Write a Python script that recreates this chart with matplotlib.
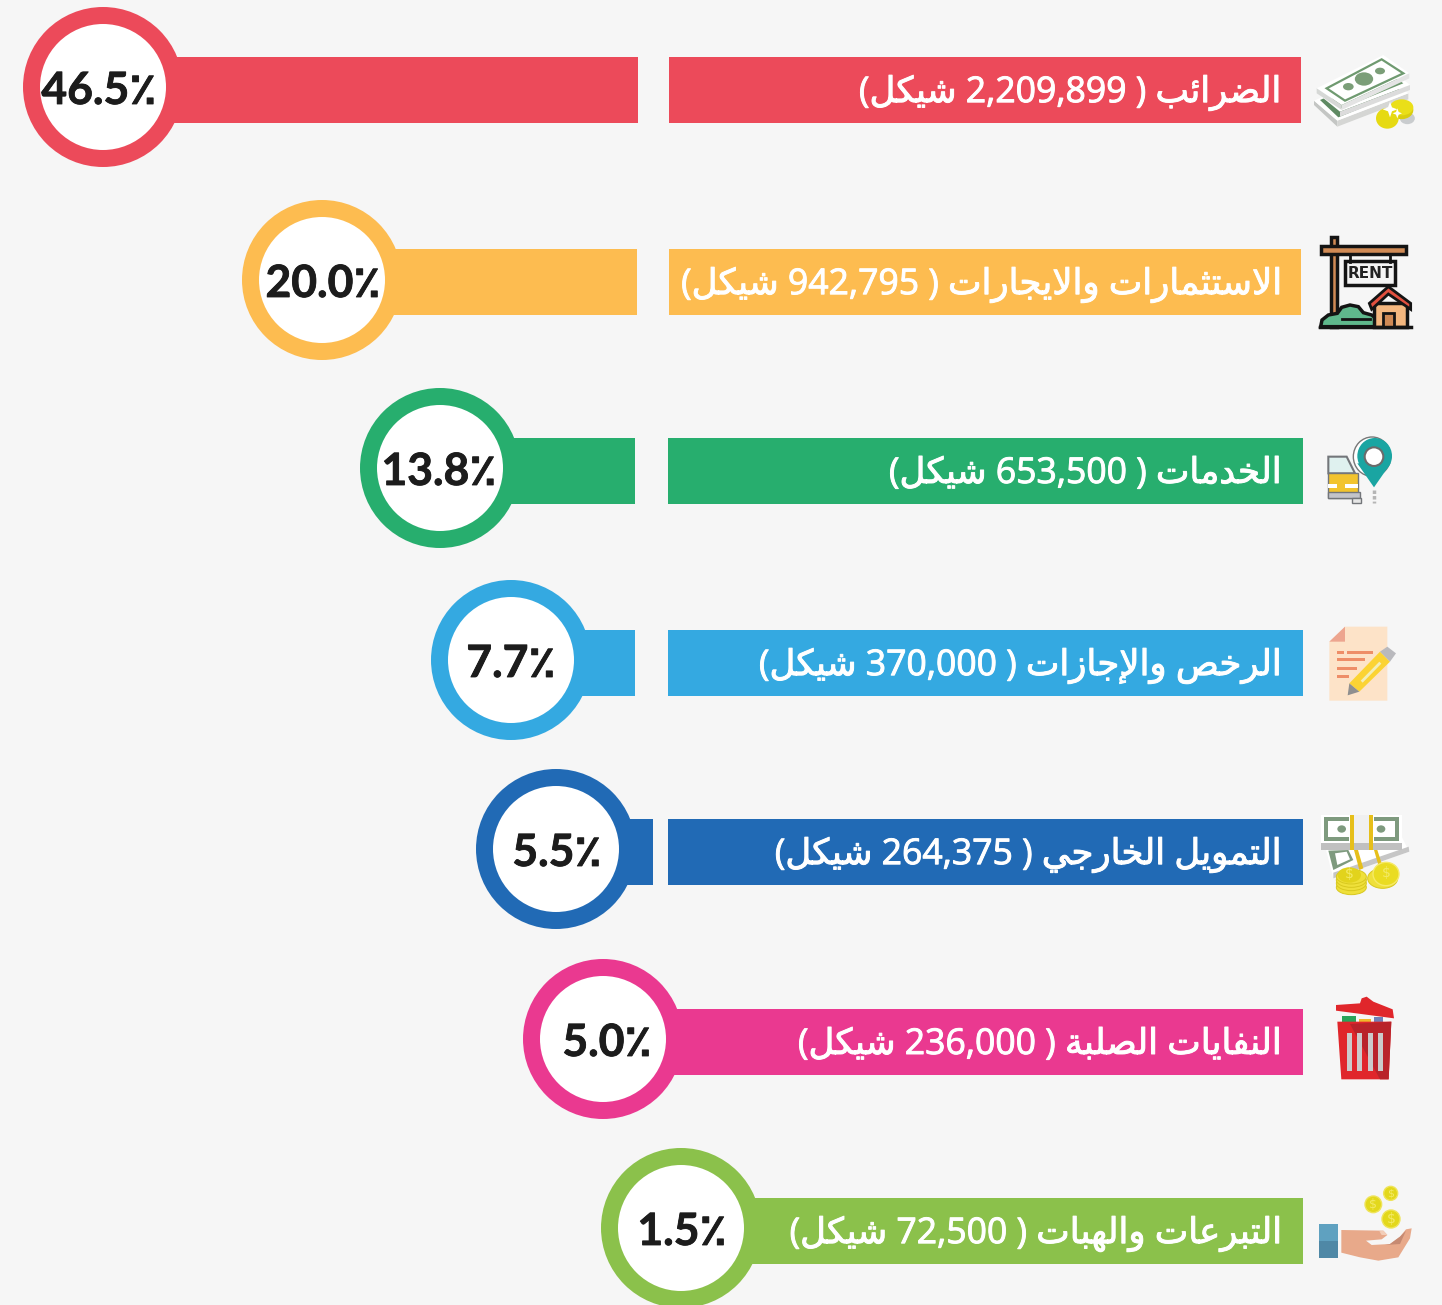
import matplotlib
matplotlib.use('Agg')
import matplotlib.pyplot as plt
import matplotlib.patheffects as pe
from matplotlib.patches import Circle, Ellipse, Polygon, Rectangle

#### values
labels = ['الضرائب', 'الاستثمارات والايجارات', 'الخدمات', 'الرخص والإجازات',
          'التمويل الخارجي', 'النفايات الصلبة', 'التبرعات والهبات']
amounts = ['2,209,899', '942,795', '653,500', '370,000', '264,375', '236,000', '72,500']
shares = ['46.5', '20.0', '13.8', '7.7', '5.5', '5.0', '1.5']
unit = 'شيكل'
colors = ['#ec4a5a', '#fdbc50', '#27ae6e', '#34a9e1', '#216ab5', '#ea3990', '#8bc14b']

#### layout in pixels
row_y = [90, 282, 471, 663, 852, 1042, 1231]
circle_x = [103, 322, 440, 511, 556, 603, 681]
circle_y = [87, 280, 468, 660, 849, 1039, 1228]
share_x = [99, 323, 439, 511, 557, 607, 682]
left_end = [638, 637, 635, 635, 653, 668, 668]
right_start = [669, 669, 668, 668, 668, 668, 668]
right_end = [1301, 1301, 1303, 1303, 1303, 1303, 1303]

BG = '#f6f6f6'
BAR_H = 66
R_OUT = 80
R_IN = 63

# matplotlib does not shape arabic, so pick presentation forms by hand
# letter: isolated form, then final, initial, medial follow it
FOUR = {'ئ': 0xFE89, 'ب': 0xFE8F, 'ت': 0xFE95, 'ث': 0xFE99, 'ج': 0xFE9D, 'ح': 0xFEA1,
        'خ': 0xFEA5, 'س': 0xFEB1, 'ش': 0xFEB5, 'ص': 0xFEB9, 'ض': 0xFEBD, 'ع': 0xFEC9,
        'ف': 0xFED1, 'ك': 0xFED9, 'ل': 0xFEDD, 'م': 0xFEE1, 'ن': 0xFEE5, 'ه': 0xFEE9,
        'ي': 0xFEF1}
TWO = {'إ': 0xFE87, 'ا': 0xFE8D, 'ة': 0xFE93, 'د': 0xFEA9, 'ر': 0xFEAD, 'ز': 0xFEAF, 'و': 0xFEED}
LAM_ALEF = {'ا': 0xFEFB, 'إ': 0xFEF9}


def shape(text):
    out = []
    joined = False  # did the previous letter connect forward
    i = 0
    while i < len(text):
        c = text[i]
        nxt = text[i + 1] if i + 1 < len(text) else ' '
        if c == 'ل' and nxt in LAM_ALEF:
            out.append(chr(LAM_ALEF[nxt] + (1 if joined else 0)))
            joined = False
            i += 2
            continue
        if c in FOUR:
            base = FOUR[c]
            forward = nxt in FOUR or nxt in TWO
            if joined and forward:
                out.append(chr(base + 3))
            elif joined:
                out.append(chr(base + 1))
            elif forward:
                out.append(chr(base + 2))
            else:
                out.append(chr(base))
            joined = forward
        elif c in TWO:
            out.append(chr(TWO[c] + (1 if joined else 0)))
            joined = False
        else:
            out.append(c)
            joined = False
        i += 1
    return ''.join(reversed(out))


fig = plt.figure(figsize=(14.42, 13.05), dpi=100, facecolor=BG)
ax = fig.add_axes([0, 0, 1, 1])
ax.set_xlim(0, 1442)
ax.set_ylim(1305, 0)
ax.axis('off')

# bars and rings
for i in range(len(labels)):
    ax.barh(row_y[i], left_end[i] - circle_x[i], left=circle_x[i], height=BAR_H,
            color=colors[i], linewidth=0, zorder=1)
    ax.barh(row_y[i], right_end[i] - right_start[i], left=right_start[i], height=BAR_H,
            color=colors[i], linewidth=0, zorder=1)
    ax.add_patch(Circle((circle_x[i], circle_y[i]), R_OUT, fc=colors[i], lw=0, zorder=2))
    ax.add_patch(Circle((circle_x[i], circle_y[i]), R_IN, fc='white', lw=0, zorder=3))
    ax.text(share_x[i], circle_y[i] + 4, shares[i] + '٪', ha='center', va='center',
            fontsize=32, fontweight='bold', family=['Lato', 'DejaVu Sans'],
            color='#1c1c1c', zorder=4,
            path_effects=[pe.withStroke(linewidth=0.6, foreground='#1c1c1c')])
    # parens as they show in the picture, swapped by trial against the render
    txt = '(' + shape(unit) + ' ' + amounts[i] + ' ) ' + shape(labels[i])
    ax.text(1281, row_y[i] + 3, txt, ha='right', va='center', fontsize=25.6,
            family=['Open Sans', 'DejaVu Sans'], color='white', zorder=4,
            path_effects=[pe.withStroke(linewidth=0.7, foreground='white')])


def P(pts, ox, oy, **kw):
    kw.setdefault('lw', 0)
    ax.add_patch(Polygon([(ox + x / 3, oy + y / 3) for x, y in pts], closed=True, **kw))


def R(x0, y0, x1, y1, ox, oy, **kw):
    kw.setdefault('lw', 0)
    ax.add_patch(Rectangle((ox + x0 / 3, oy + y0 / 3), (x1 - x0) / 3, (y1 - y0) / 3, **kw))


def E(x, y, w, h, ox, oy, **kw):
    kw.setdefault('lw', 0)
    ax.add_patch(Ellipse((ox + x / 3, oy + y / 3), w / 3, h / 3, **kw))


# icon 1 banknotes
o = (1300, 30)
E(322, 265, 45, 35, *o, fc='#c9ccce')
P([(42, 212), (112, 272), (112, 290), (42, 225)], *o, fc='#c4c6c4')
P([(112, 272), (325, 190), (325, 208), (112, 290)], *o, fc='#d5d6d4')
P([(42, 212), (245, 125), (325, 190), (112, 272)], *o, fc='white')
P([(60, 210), (245, 130), (305, 185), (115, 262)], *o, fc='#5f8a63')
P([(52, 190), (250, 100), (330, 165), (120, 245)], *o, fc='white')
P([(120, 245), (330, 165), (330, 180), (120, 260)], *o, fc='#dcdcdc')
P([(85, 195), (250, 115), (310, 160), (125, 235)], *o, fc='#6f9a70')
P([(50, 175), (250, 75), (328, 130), (125, 225)], *o, fc='white')
P([(50, 175), (125, 225), (125, 240), (50, 190)], *o, fc='#d6d8d6')
P([(125, 225), (328, 130), (328, 145), (125, 240)], *o, fc='#e4e4e4')
P([(80, 175), (245, 88), (310, 130), (135, 212)], *o, fc='white', ec='#6f9a70', lw=1.6)
E(192, 147, 55, 40, *o, fc='#7b9e78')
E(145, 170, 32, 22, *o, fc='#7b9e78')
E(240, 123, 30, 20, *o, fc='#7b9e78')
E(305, 240, 70, 55, *o, fc='#d9cd10')
E(305, 232, 70, 48, *o, fc='#eadf18')
E(262, 265, 68, 62, *o, fc='#e6da12')
P([(270, 215), (276, 232), (292, 238), (276, 244), (270, 262), (264, 244), (248, 238), (264, 232)], *o, fc='white')
P([(292, 235), (296, 246), (306, 250), (296, 254), (292, 265), (288, 254), (278, 250), (288, 246)], *o, fc='white')

# icon 2 rent sign
BLK = '#141414'
R(92, 622, 110, 890, *o, fc='#d08a55', ec=BLK, lw=2.5)
R(62, 648, 318, 672, *o, fc='#d08a55', ec=BLK, lw=2.5)
ax.plot([1350, 1350], [254, 262], color=BLK, lw=2)
ax.plot([1390, 1390], [254, 262], color=BLK, lw=2)
R(135, 693, 285, 765, *o, fc='#f4f4f4', ec=BLK, lw=2.5)
ax.text(1370, 273.5, 'RENT', ha='center', va='center', fontsize=11, fontweight='bold',
        family='DejaVu Sans', color='#222222')
P([(62, 890), (66, 870), (85, 855), (112, 850), (125, 832), (150, 825), (175, 830), (190, 848),
   (215, 855), (235, 870), (240, 890)], *o, fc='#5fb88c', ec=BLK, lw=2.5)
ax.plot([1342, 1370], [318.5, 318.5], color=BLK, lw=2)
R(222, 820, 320, 890, *o, fc='#f4b77f', ec=BLK, lw=2.5)
P([(208, 820), (265, 770), (332, 820), (332, 838), (265, 792), (215, 838)], *o, fc='#e2503f', ec=BLK, lw=2)
R(250, 850, 282, 890, *o, fc='#d08a55', ec=BLK, lw=2)
ax.plot([1320, 1411], [327, 327], color=BLK, lw=2.5)

# icon 3 car and pin
o = (1300, 420)
P([(85, 110), (140, 110), (165, 160), (85, 160)], *o, fc='#dff1ef', ec='#73767a', lw=1.5)
R(85, 160, 175, 235, *o, fc='#f2c42e', ec='#73767a', lw=1)
R(85, 192, 112, 204, *o, fc='white')
R(135, 192, 175, 204, *o, fc='white')
R(85, 215, 180, 235, *o, fc='#c3c4ca', ec='#73767a', lw=1)
R(155, 235, 182, 250, *o, fc='#e6e6e6', ec='#73767a', lw=1)
E(216, 110, 112, 118, *o, fc='white', ec='#777777', lw=1)
P([(172, 130), (272, 130), (222, 202)], *o, fc='#1aa5a2')
E(224, 108, 104, 108, *o, fc='#1aa5a2')
E(222, 110, 56, 56, *o, fc='white', ec='#6b6b6b', lw=1.5)
ax.plot([1374, 1374], [490, 503], color='#b5b5b5', lw=2.5, ls=(0, (1, 0.6)))

# icon 4 document and pencil
P([(88, 665), (135, 620), (262, 620), (262, 842), (88, 842)], *o, fc='#fde3c8')
P([(88, 665), (135, 620), (135, 665)], *o, fc='#eda58f')
for x0, y0, x1 in [(110, 692, 132), (140, 692, 218), (110, 715, 195), (110, 740, 172), (110, 765, 148)]:
    R(x0, y0, x1, y0 + 9, *o, fc='#ee8e68')
P([(148, 790), (240, 695), (270, 725), (178, 815)], *o, fc='#fbd334')
P([(148, 790), (178, 815), (143, 826)], *o, fc='#8f8f8f')
P([(240, 695), (262, 680), (288, 700), (270, 725)], *o, fc='#b9b9bd')
P([(182, 782), (238, 725), (244, 731), (188, 788)], *o, fc='#f3eeb8')

# icon 5 bundled notes and coins
o = (1300, 800)
P([(78, 150), (306, 112), (328, 155), (100, 235)], *o, fc='white')
P([(100, 218), (326, 140), (328, 155), (100, 235)], *o, fc='#c6c6c6')
P([(85, 152), (145, 150), (160, 180), (100, 210)], *o, fc='#7e9a7e')
P([(105, 160), (140, 155), (150, 178), (112, 195)], *o, fc='white')
R(62, 45, 306, 130, *o, fc='white')
R(72, 50, 146, 122, *o, fc='#7e9a7e')
R(222, 50, 298, 122, *o, fc='#7e9a7e')
R(85, 62, 146, 112, *o, fc='white')
R(222, 62, 285, 112, *o, fc='white')
E(125, 87, 26, 22, *o, fc='#7e9a7e')
E(243, 87, 26, 22, *o, fc='#7e9a7e')
R(150, 45, 218, 130, *o, fc='#f0f0f0')
R(62, 128, 306, 150, *o, fc='#c0c0c0')
R(150, 45, 162, 150, *o, fc='#e6bf1a')
R(207, 45, 219, 150, *o, fc='#e6bf1a')
P([(162, 150), (174, 150), (190, 205), (178, 210)], *o, fc='#e6bf1a')
P([(222, 150), (232, 150), (245, 190), (235, 195)], *o, fc='#e6bf1a')
for yy in [262, 250, 240, 230]:
    E(154, yy, 90, 44, *o, fc='#efe03a', ec='#d8c81e', lw=0.7)
E(248, 235, 90, 60, *o, fc='#efe03a', ec='#d8c81e', lw=0.7)
E(258, 222, 78, 70, *o, fc='#eadc22', ec='#f6ea66', lw=1)
E(148, 225, 70, 46, *o, fc='#e2d31c')
ax.text(1349, 874.5, '$', ha='center', va='center', fontsize=10, color='#f3ea66', family='DejaVu Sans')
ax.text(1386, 873, '$', ha='center', va='center', fontsize=10, color='#f3ea66', family='DejaVu Sans')

# icon 6 bin
P([(108, 615), (180, 610), (185, 595), (200, 590), (220, 605), (278, 628), (282, 655), (108, 632)], *o, fc='#e0262b')
R(125, 648, 168, 665, *o, fc='#2aa35a')
R(176, 657, 212, 665, *o, fc='#f0b92a')
R(222, 652, 250, 665, *o, fc='#6f80b8')
P([(112, 665), (274, 665), (266, 838), (124, 838)], *o, fc='#e0262b')
P([(150, 672), (274, 665), (266, 838), (240, 838)], *o, fc='#b9232a')
for x0 in [140, 172, 203, 233]:
    R(x0, 700, x0 + 15, 812, *o, fc='#cbcbcb')

# icon 7 hand and coins
o = (1300, 1170)
R(57, 162, 114, 212, *o, fc='#5fa1c0')
R(57, 212, 114, 264, *o, fc='#4f88a6')
P([(124, 180), (250, 182), (262, 195), (245, 208), (198, 212), (215, 225), (270, 222), (300, 200),
   (318, 178), (335, 175), (330, 205), (295, 262), (235, 272), (180, 262), (124, 248)], *o, fc='#e8a98a')
P([(238, 184), (250, 182), (262, 195), (245, 195)], *o, fc='#f2cdb8')
P([(255, 225), (270, 222), (300, 200), (318, 182), (300, 222)], *o, fc='#c68a72')
for x, y, d, s in [(220, 103, 50, 9), (272, 70, 42, 8), (273, 147, 54, 10)]:
    E(x, y, d, d, *o, fc='#e3d81c', ec='#efe45a', lw=1)
    ax.text(o[0] + x / 3, o[1] + y / 3, '$', ha='center', va='center', fontsize=s,
            color='#f3ea66', family='DejaVu Sans')

plt.savefig('out.png', dpi=100, facecolor=BG)
